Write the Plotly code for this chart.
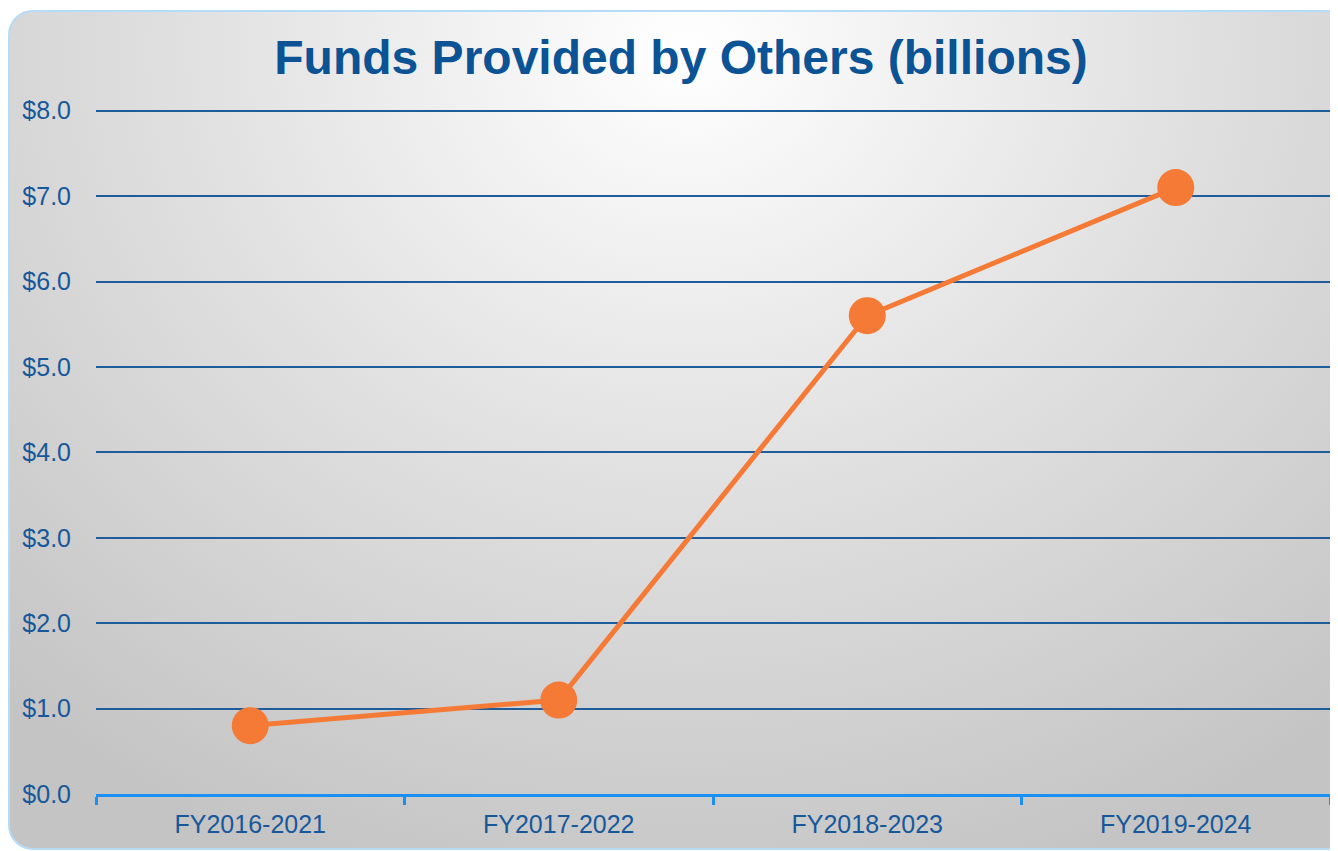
import plotly.graph_objects as go
import urllib.parse

categories = ["FY2016-2021", "FY2017-2022", "FY2018-2023", "FY2019-2024"]
values = [0.8, 1.1, 5.6, 7.1]
title_text = "Funds Provided by Others (billions)"

# the page body adds an 8px margin, so the figure is laid out 8px smaller
W, H = 1330, 843
ML, MR, MT, MB = 88, 8, 101, 57
PW, PH = W - ML - MR, H - MT - MB

svg = (
    f"<svg xmlns='http://www.w3.org/2000/svg' width='{W}' height='{H}' viewBox='0 0 {W} {H}'>"
    "<defs><radialGradient id='g' gradientUnits='userSpaceOnUse' cx='680' cy='40' r='880' "
    "gradientTransform='translate(680 40) scale(1.15 1) translate(-680 -40)'>"
    "<stop offset='0' stop-color='#ffffff'/><stop offset='0.5' stop-color='#e0e0e0'/>"
    "<stop offset='1' stop-color='#c4c4c4'/></radialGradient></defs>"
    "<rect x='1' y='3' width='1360' height='838' rx='24' ry='24' fill='url(#g)' "
    "stroke='#b5dbf7' stroke-width='2'/></svg>"
)
src = "data:image/svg+xml;charset=utf-8," + urllib.parse.quote(svg)

fig = go.Figure()
fig.add_trace(go.Scatter(
    x=categories, y=values, mode="lines+markers",
    line=dict(color="#f47a36", width=5),
    marker=dict(color="#f47a36", size=37, line=dict(width=0)),
    hoverinfo="x+y", showlegend=False,
))

fig.update_layout(
    width=W, height=H,
    margin=dict(l=ML, r=MR, t=MT, b=MB),
    paper_bgcolor="white", plot_bgcolor="rgba(0,0,0,0)",
    font=dict(family="Liberation Sans, Arial, sans-serif", color="#17589a"),
    title=dict(text=f"<b>{title_text}</b>", x=673 / W, xanchor="center",
               y=1 - 49 / H, yanchor="middle",
               font=dict(size=48, color="#0b5394", family="Liberation Sans, Arial, sans-serif")),
    images=[dict(source=src, xref="paper", yref="paper",
                 x=-ML / PW, y=1 + MT / PH, sizex=W / PW, sizey=H / PH,
                 xanchor="left", yanchor="top", sizing="stretch", layer="below")],
    xaxis=dict(
        type="category", tickson="boundaries", showgrid=False,
        showline=True, linecolor="#1a90f5", linewidth=3,
        ticks="outside", tickcolor="#1a90f5", tickwidth=3, ticklen=8,
        tickfont=dict(size=25, color="#17589a"),
        ticklabelstandoff=6,
        range=[-0.5, 3.5], zeroline=False,
    ),
    yaxis=dict(
        range=[0, 8.02], tick0=0, dtick=1, tickmode="linear",
        tickprefix="$", showtickprefix="all", tickformat=".1f",
        showgrid=True, gridcolor="#1d5d9b", gridwidth=1.5,
        zeroline=False, showline=False, ticks="",
        tickfont=dict(size=25, color="#17589a"),
        ticklabelstandoff=24,
    ),
)

fig.write_html("out.html")
